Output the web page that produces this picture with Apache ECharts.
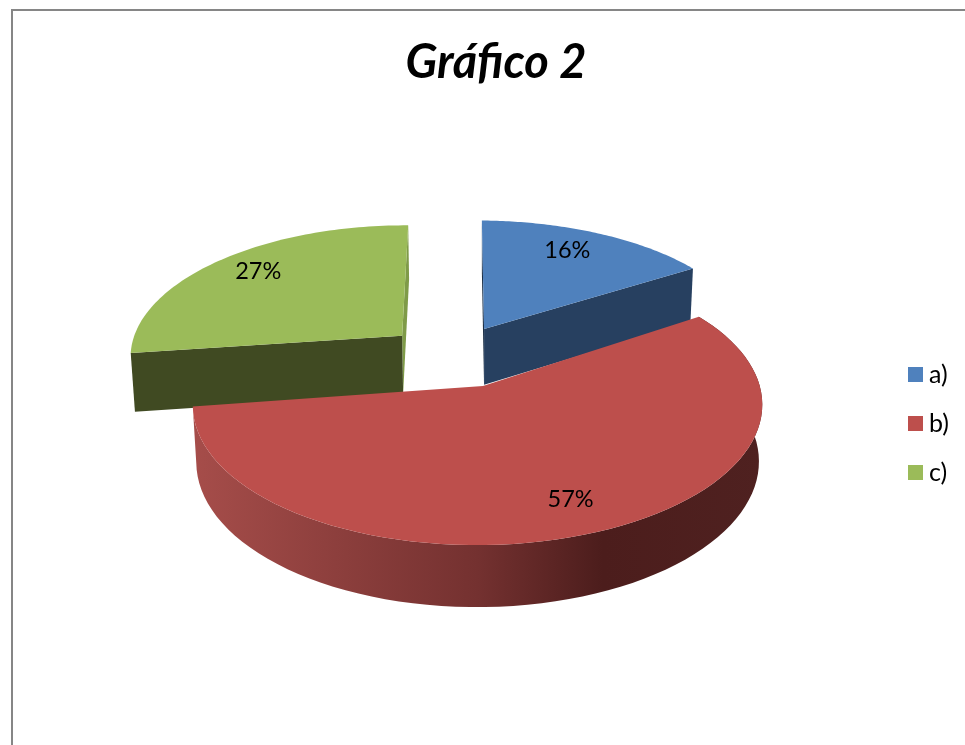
<!DOCTYPE html>
<html>
<head>
<meta charset="utf-8">
<title>Gráfico 2</title>
<style>
html, body { margin: 0; padding: 0; background: #fff; overflow: hidden; }
#main { width: 965px; height: 745px; }
</style>
<script src="https://cdn.jsdelivr.net/npm/echarts@6/dist/echarts.min.js"></script>
</head>
<body>
<div id="main"></div>
<script>
var titleText = 'Gráfico 2';
var categories = ['a)', 'b)', 'c)'];
var values = [16, 57, 27];
var topColors = ['#4f81bd', '#bd4f4c', '#9bbb59'];

// vista em perspectiva do disco (ECharts 6 nao tem pizza 3D sem o echarts-gl)
var view = {cx: 483, cy: 386, a: 282, b: 137.4, k: 0.136, m: 0.019, bottomX: 0.988, bottomY: 1.038};
var startAngle = -1.5;
// ajustes de cada fatia: deslocamento no plano, giro, largura, altura
var explode = [[0.004, 0.44], [0, 0], [-0.3, 0.382]];
var tilt = [1, 0.5, 0.7];
var widthScale = [1.015, 1, 0.97];
var depths = [58, 56, 60];
var cutColors = ['#274060', '#4a1c1b', '#404a22'];
var edgeColors = ['#1d3047', '#4a1c1b', '#7f9b48'];
var labelRadius = 0.8;
var labelShift = [[-10, 0], [-1, 0], [2, -2]];

function project(u, v, lower, depth) {
    var w = 1 + view.k * v + view.m * u;
    if (lower) {
        return [view.cx + view.a * view.bottomX * u / w, view.cy + depth - view.b * view.bottomY * v / w];
    }
    return [view.cx + view.a * u / w, view.cy - view.b * v / w];
}

function sliceAngles(i) {
    var before = 0;
    for (var j = 0; j < i; j++) before += values[j];
    var from = startAngle + tilt[i] + before / 100 * 360;
    return [from, from + values[i] / 100 * 360];
}

function rimPoint(i, deg, r, lower) {
    var t = deg * Math.PI / 180;
    return project(explode[i][0] + widthScale[i] * r * Math.sin(t), explode[i][1] + r * Math.cos(t), lower, depths[i]);
}

function arcPoints(i, from, to, lower) {
    var pts = [];
    for (var s = 0; s <= 80; s++) {
        pts.push(rimPoint(i, from + (to - from) * s / 80, 1, lower));
    }
    return pts;
}

function wall(i, deg, fill) {
    return {
        type: 'polygon',
        shape: {points: [rimPoint(i, deg, 0, false), rimPoint(i, deg, 1, false), rimPoint(i, deg, 1, true), rimPoint(i, deg, 0, true)]},
        style: {fill: fill}
    };
}

function renderSlice(i) {
    var ang = sliceAngles(i);
    var kids = [];
    if (i === 0) {
        kids.push(wall(i, ang[0], edgeColors[i]));
        kids.push(wall(i, ang[1], cutColors[i]));
    }
    if (i === 1) {
        // lateral externa com o degrade da parte da frente
        var top = arcPoints(i, ang[0], ang[1], false);
        var bottom = arcPoints(i, ang[0], ang[1], true).reverse();
        kids.push({
            type: 'polygon',
            shape: {points: top.concat(bottom)},
            style: {
                fill: new echarts.graphic.LinearGradient(0, 0, 1, 0, [
                    {offset: 0, color: '#a64d4a'},
                    {offset: 0.5, color: '#743130'},
                    {offset: 0.72, color: '#4c1d1c'},
                    {offset: 1, color: '#4f2120'}
                ])
            }
        });
    }
    if (i === 2) {
        kids.push(wall(i, ang[1], edgeColors[i]));
        kids.push(wall(i, ang[0], cutColors[i]));
    }
    kids.push({
        type: 'polygon',
        shape: {points: [rimPoint(i, 0, 0, false)].concat(arcPoints(i, ang[0], ang[1], false))},
        style: {fill: topColors[i]}
    });
    var mid = rimPoint(i, (ang[0] + ang[1]) / 2, labelRadius, false);
    kids.push({
        type: 'text',
        x: mid[0] + labelShift[i][0],
        y: mid[1] + labelShift[i][1],
        style: {
            text: values[i] + '%',
            fill: '#000',
            font: '23.5px Lato',
            align: 'center',
            verticalAlign: 'middle'
        }
    });
    return {type: 'group', children: kids};
}

var chart = echarts.init(document.getElementById('main'));

var option = {
    animation: false,
    backgroundColor: '#fff',
    title: {
        text: titleText,
        left: 491,
        top: 34,
        textAlign: 'center',
        textStyle: {fontFamily: 'Lato', fontSize: 47, fontWeight: 'bold', fontStyle: 'italic', color: '#000'}
    },
    legend: {
        data: categories,
        orient: 'vertical',
        left: 903,
        top: 357,
        icon: 'rect',
        itemWidth: 15,
        itemHeight: 15,
        itemGap: 24,
        textStyle: {fontFamily: 'Lato', fontSize: 25, color: '#000', padding: [0, 0, 0, 1]},
        selectedMode: false
    },
    graphic: [{
        type: 'rect',
        shape: {x: 12, y: 10, width: 1000, height: 1000},
        style: {fill: 'none', stroke: '#868686', lineWidth: 2},
        silent: true
    }],
    series: categories.map(function (name, i) {
        return {
            name: name,
            type: 'custom',
            coordinateSystem: 'none',
            z: i === 1 ? 3 : 2,
            itemStyle: {color: topColors[i]},
            data: [values[i]],
            renderItem: function () {
                return renderSlice(i);
            }
        };
    })
};

chart.setOption(option);
</script>
</body>
</html>
